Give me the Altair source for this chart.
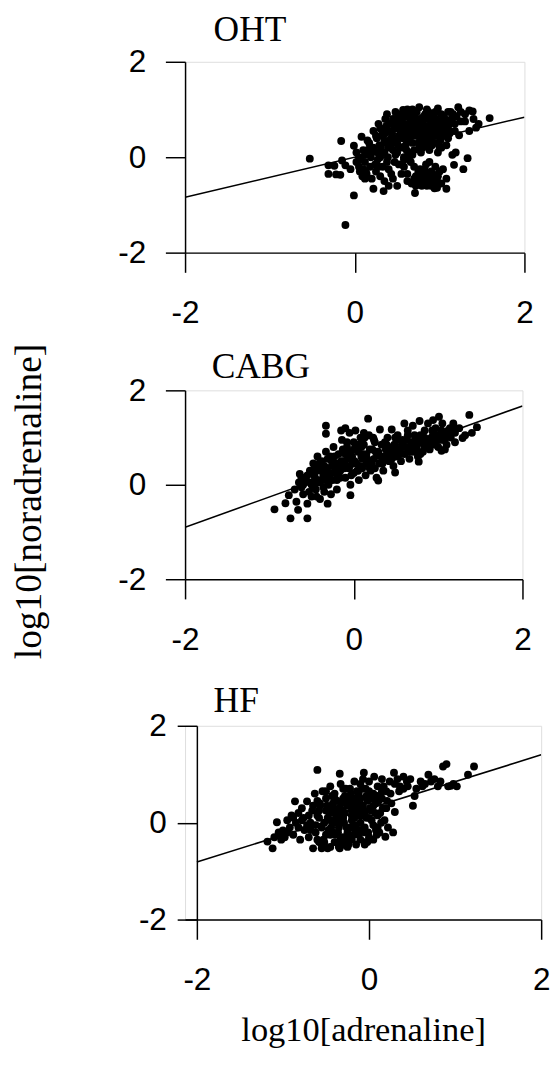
import altair as alt
import pandas as pd

# ---------------- data ----------------
panel_names = ["OHT", "CABG", "HF"]
tick_values = [-2, 0, 2]

oht_x = [-0.53, -0.31, -0.31, -0.22, -0.17, -0.24, -0.15, -0.11, -0.16, -0.11, -0.01, -0.01, 0.08, 0.02, 0.05,
         0.06, 0.09, 0.10, 0.12, 0.14, 0.12, 0.15, 0.17, 0.19, 0.22, 0.24, 0.27, 0.29, 0.30, 0.32, 0.34, 0.35,
         0.35, 0.37, 0.39, 0.40, 0.42, 0.44, 0.45, 0.47, 0.48, 0.50, 0.50, 0.52, 0.54, 0.55, 0.57, 0.58, 0.60,
         0.60, 0.62, 0.63, 0.65, 0.66, 0.68, 0.70, 0.71, 0.72, 0.73, 0.75, 0.76, 0.77, 0.78, 0.80, 0.80, 0.82,
         0.83, 0.85, 0.86, 0.88, 0.88, 0.90, 0.90, 0.92, 0.94, 0.95, 0.97, 0.98, 1.00, 1.00, 1.02, 1.05, 1.05,
         1.08, 1.08, 1.10, 1.12, 1.13, 1.15, 1.17, 1.18, 1.19, 1.20, 1.22, 1.23, 1.25, 1.28, 1.30, 1.33, 1.35,
         1.39, 1.43, 1.46, 1.59,
         0.25, 0.30, 0.35, 0.40, 0.42, 0.45, 0.50, 0.52, 0.55, 0.58, 0.60, 0.62, 0.64, 0.66, 0.68, 0.70, 0.72,
         0.74, 0.76, 0.78, 0.80, 0.82, 0.84, 0.86, 0.88, 0.90, 0.92, 0.94, 0.96, 0.98, 1.00, 1.02, 1.04, 1.06,
         1.10, 1.14, 1.18, 0.30, 0.35, 0.40, 0.45, 0.50, 0.55, 0.60, 0.65, 0.70, 0.75, 0.80, 0.85, 0.90, 0.95,
         1.00, 0.70, 0.75, 0.78, 0.82, 0.85, 0.87, 0.90, 0.92, 0.95, 0.98, 1.02, 0.72, 0.66, 0.55, 0.45, 0.40,
         0.25, 0.20, 0.18, 0.10, 0.22, 0.28, 0.38, 0.48, 0.62, 0.68, 0.85, 0.98, 1.10, 1.25, 1.30, 1.35, 1.40]
oht_y = [-0.03, -0.17, -0.35, -0.36, -0.37, -0.18, -0.07, -0.17, 0.34, -1.42, -0.80, 0.24, 0.43, -0.10, -0.20,
         -0.30, -0.40, -0.25, -0.45, -0.35, 0.05, 0.15, 0.30, 0.00, -0.66, -0.15, 0.10, 0.25, -0.40, 0.45, -0.71,
         -0.50, 0.60, 0.30, 0.00, -0.25, 0.70, 0.50, 0.15, -0.10, 0.80, -0.60, 0.35, 0.60, 0.90, 0.20, 0.99,
         -0.20, 0.45, 0.70, -0.35, 0.10, 0.85, 0.55, 0.30, -0.45, -0.75, 0.65, 0.95, -0.30, 1.05, 0.40, 0.75,
         -0.55, 0.20, 0.60, 0.90, -0.40, 0.50, -0.10, 0.80, -0.60, 0.35, 0.65, -0.45, 0.95, -0.64, 0.50, 0.75,
         -0.30, 0.20, 0.85, 0.60, -0.66, -0.45, 0.40, 0.70, 0.95, 0.05, -0.16, 0.55, 0.10, 0.85, 1.05, 0.46,
         0.75, -0.25, 0.90, -0.02, 0.98, 0.96, 0.62, 0.70, 0.82,
         0.45, 0.60, 0.35, 0.55, 0.25, 0.80, 0.65, 0.45, 0.75, 0.55, 0.85, 0.35, 0.65, 0.75, 0.50, 0.90, 0.45,
         0.60, 0.80, 0.55, 0.70, 0.45, 0.80, 0.65, 0.55, 0.75, 0.45, 0.60, 0.80, 0.70, 0.55, 0.90, 0.70, 0.45,
         0.65, 0.80, 0.70, 0.00, 0.10, 0.20, 0.40, 0.10, 0.50, 0.25, 0.40, 0.15, 0.30, 0.40, 0.25, 0.50, 0.30,
         0.20, -0.20, -0.50, -0.35, -0.25, -0.60, -0.50, -0.30, -0.55, -0.20, -0.40, -0.55, -0.60, -0.10, -0.35,
         -0.45, -0.60, -0.30, -0.45, 0.20, 0.15, 0.55, 0.70, 0.90, 0.95, 1.00, 1.00, 1.00, 1.02, 0.95, 0.95,
         0.75, 0.55, 0.80]
oht_x2 = [0.33, 0.37, 0.43, 0.47, 0.53, 0.57, 0.63, 0.67, 0.73, 0.77, 0.83, 0.87, 0.93, 0.97, 1.03, 1.07, 1.12,
          0.36, 0.46, 0.56, 0.66, 0.76, 0.86, 0.96, 1.06, 0.41, 0.51, 0.61, 0.71, 0.81, 0.91, 1.01,
          0.74, 0.79, 0.84, 0.89, 0.94, 0.77, 0.87, 0.97, 0.05, 0.12, 0.18, 0.22, -0.05, 0.15, 0.27,
          0.58, 0.52, 0.64]
oht_y2 = [0.50, 0.65, 0.40, 0.60, 0.85, 0.40, 0.60, 0.90, 0.75, 0.65, 0.55, 0.95, 0.85, 0.45, 0.75, 0.60, 0.50,
          0.80, 0.30, 0.65, 0.50, 0.45, 0.40, 0.55, 0.65, 0.70, 0.80, 0.95, 0.60, 0.85, 0.60, 0.35,
          -0.40, -0.60, -0.15, -0.45, -0.65, -0.25, -0.35, -0.50, 0.00, -0.10, -0.20, 0.20, -0.25, 0.35, -0.05,
          0.00, -0.15, -0.05]
oht_x3 = [0.20, 0.26, 0.31, 0.36, 0.41, 0.46, 0.51, 0.56, 0.61, 0.66,
          0.71, 0.76, 0.81, 0.86, 0.91, 0.96, 1.01, 1.06, 1.11, 1.16,
          0.28, 0.38, 0.48, 0.58, 0.68, 0.78, 0.88, 0.98, 1.08,
          0.62, 0.67, 0.72, 0.82, 0.92, 1.04, 0.02, 0.07, 0.13, 0.33, 0.43]
oht_y3 = [0.10, 0.40, 0.20, 0.50, 0.35, 0.70, 0.25, 0.60, 0.15, 0.45,
          0.80, 0.20, 0.35, 0.85, 0.25, 0.65, 0.40, 0.80, 0.55, 0.90,
          -0.20, -0.10, 0.05, -0.05, 0.05, 0.10, 0.15, 0.10, 0.25,
          -0.50, -0.55, -0.40, -0.45, -0.35, -0.25, 0.10, -0.05, -0.30, -0.20, -0.35]

cabg_x = [-0.94, -0.75, -0.55, -0.81, -0.77, -0.68, -0.66, -0.64, -0.33, -0.33, 0.17, 1.37, 1.46, 1.01, 0.94,
          1.04, 0.77, 0.49, 0.29, -0.04, -0.31,
          -0.70, -0.65, -0.60, -0.58, -0.55, -0.52, -0.50, -0.50, -0.48, -0.46, -0.45, -0.43, -0.42, -0.40, -0.40,
          -0.38, -0.36, -0.35, -0.33, -0.32, -0.30, -0.28, -0.27, -0.25, -0.24, -0.22, -0.20, -0.20, -0.18, -0.16,
          -0.15, -0.14, -0.12, -0.10, -0.10, -0.08, -0.06, -0.05, -0.04, -0.02, 0.00, 0.00, 0.02, 0.03, 0.05,
          0.06, 0.08, 0.10, 0.10, 0.12, 0.14, 0.15, 0.17, 0.18, 0.20, 0.22, 0.24, 0.25, 0.27, 0.28, 0.30, 0.31,
          0.33, 0.35, 0.36, 0.38, 0.40, 0.42, 0.44, 0.45, 0.47, 0.48, 0.50, 0.52, 0.54, 0.56, 0.58, 0.60, 0.60,
          0.62, 0.64, 0.66, 0.68, 0.70, 0.70, 0.72, 0.74, 0.76, 0.78, 0.80, 0.82, 0.84, 0.86, 0.88, 0.90, 0.92,
          0.95, 0.97, 1.00, 1.02, 1.05, 1.07, 1.10, 1.12, 1.15, 1.18, 1.20, 1.25, 1.29, 1.32, 1.40, 1.20, 1.08,
          -0.35, -0.25, -0.15, -0.05, 0.05, -0.30, -0.45, -0.55, -0.60, -0.20, 0.15, 0.25, 0.35, 0.45, 0.55,
          0.65, 0.75, 0.85, 0.95, -0.10, 0.00, 0.10]
cabg_y = [-0.52, -0.71, -0.71, -0.39, -0.22, -0.36, -0.53, 0.23, 1.25, 1.08, 1.40, 1.48, 1.22, 1.44, 1.37,
          0.72, 0.49, 0.26, 0.09, -0.22, -0.40,
          -0.10, 0.05, -0.20, 0.10, -0.40, 0.30, 0.00, -0.25, 0.45, 0.15, -0.10, 0.60, 0.30, -0.30, 0.05,
          0.50, 0.20, -0.15, 0.70, 0.35, 0.00, 0.55, -0.20, 0.25, 0.80, 0.45, 0.10, -0.10, 0.65, 0.30,
          1.15, 0.95, 0.50, 0.15, 1.20, 0.80, 0.35, 1.10, 0.00, 0.60, 0.25, 0.90, 1.15, 0.45, 0.70,
          0.10, 1.00, 0.35, 0.55, 0.85, 0.20, 0.65, 0.45, 1.05, 0.30, 0.75, 0.55, 0.90, 0.15, 0.65, 0.45, 1.17,
          0.85, 0.30, 0.60, 0.75, 1.00, 0.50, 0.70, 1.17, 0.40, 0.85, 0.60, 1.05, 0.75, 0.50, 0.95, 0.65, 1.30,
          0.80, 1.15, 0.55, 0.90, 0.70, 1.25, 1.05, 0.80, 0.60, 1.35, 0.90, 0.70, 1.15, 0.85, 1.30, 0.75, 1.00,
          0.90, 1.20, 0.80, 1.05, 1.30, 0.95, 0.85, 1.15, 1.00, 1.30, 1.10, 1.20, 0.99, 1.05, 1.10, 0.90, 0.75,
          0.40, 0.10, 0.50, 0.40, 0.30, 0.20, 0.30, 0.20, 0.00, 0.30, 0.45, 0.35, 0.50, 0.55, 0.65,
          0.70, 0.75, 0.80, 0.85, 0.65, 0.75, 0.90]
cabg_x2 = [-0.62, -0.57, -0.53, -0.47, -0.44, -0.41, -0.37, -0.34, -0.31, -0.29,
           -0.26, -0.23, -0.19, -0.17, -0.13, -0.11, -0.07, -0.03, 0.01, 0.04,
           0.07, 0.11, 0.13, 0.16, 0.19, 0.21, 0.26, 0.32, 0.37, 0.41,
           0.46, 0.51, 0.57, 0.63, 0.69, 0.73, 0.79, 0.83, 0.89, 0.93,
           0.99, 1.03, 1.09, 1.14, -0.48, -0.36, -0.21, 0.09, 0.23, 0.53]
cabg_y2 = [-0.05, 0.15, -0.15, 0.20, 0.05, 0.45, 0.30, 0.10, 0.55, 0.25,
           0.40, 0.60, 0.20, 0.45, 0.75, 0.35, 0.55, 0.20, 0.50, 0.85,
           0.40, 0.65, 1.00, 0.55, 0.75, 0.45, 0.70, 0.60, 0.90, 0.65,
           0.80, 0.70, 0.85, 0.95, 0.80, 0.95, 1.05, 0.85, 0.95, 1.15,
           1.05, 0.95, 1.10, 1.20, -0.05, -0.05, 0.40, 0.60, 1.00, 0.95]
cabg_x3 = [-0.52, -0.46, -0.41, -0.36, -0.31, -0.26, -0.21, -0.16, -0.11, -0.06,
           -0.01, 0.04, 0.09, 0.14, 0.19, 0.24, 0.29, 0.34, 0.39, 0.44,
           0.49, 0.54, 0.59, 0.64, 0.69, 0.74, 0.79, 0.84, 0.89, 0.94,
           0.99, 1.04, 1.09, 1.14, 1.19, -0.62, -0.44, -0.28, -0.08, 0.12]
cabg_y3 = [0.05, 0.35, 0.10, 0.40, 0.15, 0.50, 0.35, 0.15, 0.45, 0.70,
           0.50, 0.30, 0.80, 0.60, 0.35, 0.95, 0.70, 0.45, 0.85, 0.55,
           1.00, 0.65, 0.80, 1.05, 0.75, 0.90, 0.65, 1.00, 0.90, 1.05,
           0.95, 1.15, 1.00, 1.10, 1.20, 0.15, -0.25, 0.60, 0.90, 1.10]

hf_x = [-1.18, -1.12, -1.10, -1.07, -1.05, -1.00, -0.98, -0.95, -0.92, -0.90, -0.88, -0.86, -0.85, -0.82, -0.80,
        -0.78, -0.76, -0.75, -0.72, -0.70, -0.68, -0.66, -0.65, -0.63, -0.62, -0.60, -0.60, -0.58, -0.57, -0.55,
        -0.54, -0.52, -0.50, -0.50, -0.48, -0.46, -0.45, -0.44, -0.42, -0.40, -0.40, -0.38, -0.36, -0.35, -0.34,
        -0.34, -0.33, -0.32, -0.30, -0.30, -0.28, -0.27, -0.26, -0.25, -0.24, -0.22, -0.20, -0.20, -0.18, -0.17,
        -0.16, -0.15, -0.14, -0.12, -0.10, -0.10, -0.08, -0.07, -0.06, -0.05, -0.04, -0.03, -0.02, 0.00, 0.00,
        0.02, 0.03, 0.05, 0.06, 0.08, 0.10, 0.10, 0.12, 0.13, 0.15, 0.16, 0.18, 0.19, 0.20, 0.22, 0.24, 0.26,
        0.28, 0.29, 0.30, 0.33, 0.36, 0.40, 0.44, 0.48, 0.51, 0.53, 0.60, 0.65, 0.69, 0.72, 0.76, 0.80, 0.83,
        0.86, 0.90, 0.92, 0.95, 0.98, 1.02, 1.15, 1.22,
        -0.40, -0.30, -0.20, -0.10, 0.00, -0.35, -0.25, -0.15, -0.05, -0.45, -0.50, -0.25, -0.15, 0.05, -0.35,
        -0.20, -0.30, -0.05, 0.10, 0.15, -0.12, -0.22, -0.38, -0.55, -0.60, -0.70, -0.65]
hf_y = [-0.39, -0.53, -0.30, 0.01, -0.20, -0.16, -0.30, 0.05, -0.10, 0.15, -0.25, 0.44, 0.00, 0.20, -0.35,
        0.30, 0.10, -0.15, 0.44, -0.30, 0.00, 0.25, -0.53, 0.60, -0.20, 1.09, 0.15, -0.40, 0.35, -0.53,
        0.65, 0.00, -0.25, 0.50, -0.53, 0.20, 0.75, -0.10, 0.40, -0.40, 0.60, 0.10, -0.20, 0.30, -0.53,
        1.01, 0.80, 0.00, 0.50, -0.30, 0.20, 0.70, -0.10, 0.35, -0.45, 0.55, 0.05, 0.25, -0.25, 0.85,
        0.40, -0.05, 0.65, 0.15, -0.35, 0.50, 0.30, 0.90, 1.03, -0.10, 0.70, 0.10, 0.45, -0.30, 0.85,
        0.25, 0.60, -0.05, 0.95, 0.40, 0.15, 0.75, -0.20, 0.55, 0.90, 0.30, 0.05, -0.29, 0.65, -0.10, 0.85, 0.40,
        -0.20, 1.03, 0.22, 0.90, 0.75, 0.95, 0.85, 0.90, 0.35, 0.55, 0.85, 0.80, 0.99, 0.85, 0.90, 0.75, 0.85,
        1.16, 1.21, 0.75, 0.76, 0.80, 0.75, 0.99, 1.16,
        0.00, 0.10, 0.15, 0.00, 0.10, -0.10, -0.20, -0.15, 0.20, 0.05, 0.25, 0.45, 0.30, 0.35, 0.15,
        -0.35, -0.45, -0.20, -0.10, 0.50, 0.60, 0.70, 0.45, -0.10, -0.35, 0.15, 0.35]
hf_x2 = [-0.58, -0.53, -0.49, -0.47, -0.43, -0.41, -0.39, -0.37, -0.33, -0.31,
         -0.29, -0.27, -0.23, -0.21, -0.19, -0.17, -0.13, -0.11, -0.09, -0.07,
         -0.03, -0.01, 0.01, 0.04, 0.07, 0.09, 0.11, 0.14, 0.17, 0.21,
         -0.45, -0.35, -0.25, -0.15, -0.05, 0.05, -0.42, -0.28, -0.18, -0.08,
         0.25, 0.35, 0.45, 0.55, 0.62, -0.82, -0.95, -0.72, -0.88, -1.02]
hf_y2 = [0.10, -0.35, 0.35, -0.15, 0.55, 0.20, -0.25, 0.45, -0.35, 0.25,
         0.00, 0.40, -0.30, 0.60, 0.35, 0.10, 0.20, 0.40, -0.15, 0.15,
         0.55, -0.20, 0.30, 0.50, 0.20, -0.25, 0.45, 0.00, 0.75, 0.45,
         -0.25, -0.45, -0.35, 0.50, -0.40, 0.60, 0.30, 0.55, -0.10, 0.70,
         0.60, 0.65, 0.75, 0.70, 0.75, -0.10, -0.20, -0.05, 0.10, -0.35]
hf_x3 = [-0.62, -0.57, -0.52, -0.47, -0.42, -0.37, -0.32, -0.27, -0.22, -0.17,
         -0.12, -0.07, -0.02, 0.03, 0.08, 0.13, -0.60, -0.50, -0.40, -0.30,
         -0.20, -0.10, 0.00, 0.10, -0.55, -0.45, -0.35, -0.25, -0.15, -0.05,
         0.05, 0.15, -0.78, -0.68, -0.58, -0.48, -0.38, 0.20, 0.30, 0.40]
hf_y3 = [-0.05, 0.40, -0.40, 0.30, -0.20, 0.05, 0.40, -0.40, -0.10, 0.50,
         -0.25, 0.35, -0.40, 0.05, -0.15, 0.20, 0.45, 0.65, 0.50, 0.70,
         0.40, 0.80, 0.65, 0.55, -0.45, -0.50, -0.50, -0.50, -0.45, -0.45,
         -0.35, 0.65, 0.05, -0.15, 0.25, 0.10, 0.25, 0.30, 0.80, 0.70]

line_x = [-2, 2]
oht_line_y = [-0.84, 0.84]
cabg_line_y = [-0.90, 1.67]
hf_line_y = [-0.81, 1.40]

x_title = "log10[adrenaline]"
y_title = "log10[noradrenaline]"

SANS = "Liberation Sans"
SERIF = "Liberation Serif"


def panel(name, xs, ys, ly, w, h, ylabpad, title_dx, title_off, xtitle=None, inset=0):
    """inset: pixels by which the y axis sits inside the panel's left edge."""
    pts = pd.DataFrame({"x": xs, "y": ys})
    ln = pd.DataFrame({"x": line_x, "y": ly})
    x_lo = -2 - 4 * inset / w
    xsc = alt.Scale(domain=[x_lo, 2], nice=False, zero=False)
    ysc = alt.Scale(domain=[-2, 2], nice=False, zero=False)
    common = dict(
        values=tick_values, grid=False, domainColor="black", domainWidth=1.5,
        tickColor="black", tickWidth=1.5, tickSize=20, labelFont=SANS,
        labelFontSize=32, labelColor="black", labelFlush=False,
        labelOverlap=False, labelBound=False, labelExpr="datum.value + ''",
    )
    if xtitle:
        xax = alt.Axis(labelPadding=26, title=xtitle, titleFont=SERIF, titleFontSize=35,
                       titleFontWeight="normal", titleColor="black", titlePadding=18, **common)
    else:
        xax = alt.Axis(labelPadding=26, title=None, **common)
    if inset:
        yax = alt.Axis(labelPadding=ylabpad, title=None, offset=-inset, **common)
    else:
        yax = alt.Axis(labelPadding=ylabpad, title=None, **common)
    enc_x = alt.X("x:Q", scale=xsc, axis=xax)
    enc_y = alt.Y("y:Q", scale=ysc, axis=yax)
    line = alt.Chart(ln).mark_line(color="black", strokeWidth=1.6, clip=True).encode(x=enc_x, y=enc_y)
    dots = alt.Chart(pts).mark_circle(size=64, color="black", opacity=1).encode(x="x:Q", y="y:Q")
    return alt.layer(line, dots).properties(
        width=w + inset, height=h,
        title=alt.TitleParams(name, anchor="start", frame="group", dx=title_dx, offset=title_off,
                              font=SERIF, fontSize=36, fontWeight="normal", color="black"),
    )


p1 = panel("OHT", oht_x + oht_x2 + oht_x3, oht_y + oht_y2 + oht_y3, oht_line_y, 345, 194, 20, 29, -3)
p2 = panel("CABG", cabg_x + cabg_x2 + cabg_x3, cabg_y + cabg_y2 + cabg_y3, cabg_line_y, 343, 192, 20, 27, -11)
p3 = panel("HF", hf_x + hf_x2 + hf_x3, hf_y + hf_y2 + hf_y3, hf_line_y, 350, 197, 11, 29, -10,
           xtitle=x_title, inset=12)

top_two = alt.vconcat(p1, p2, spacing=19)

chart = (
    alt.vconcat(top_two, p3, spacing=27)
    .properties(
        title=alt.TitleParams(y_title, orient="left", anchor="middle", font=SERIF, fontSize=38,
                              fontWeight="normal", color="black", offset=70, dx=29),
        padding={"left": 3, "top": -5, "right": 0, "bottom": 0},
    )
    .configure_view(stroke="transparent", strokeOpacity=0)
    .configure(background="white")
)

chart.save("out.html", embed_options={"renderer": "svg", "actions": False})
